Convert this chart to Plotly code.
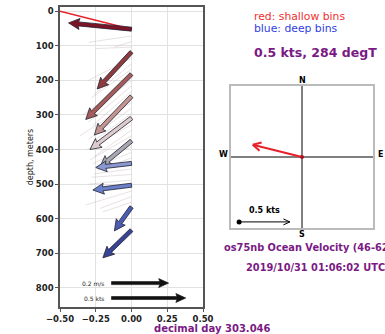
import math
import plotly.graph_objects as go

W, H = 385, 334

# ---- profile panel data (east component in plot units, depths in metres) ----
bin_depth = [52, 118, 182, 246, 309, 375, 440, 503, 566, 633]
tip_east = [-0.44, -0.24, -0.32, -0.26, -0.29, -0.22, -0.25, -0.27, -0.12, -0.20]
tip_depth = [34, 225, 313, 358, 400, 450, 452, 517, 635, 713]
arrow_colors = ['#7d1426', '#8e3b3b', '#a65a5a', '#c49590', '#dccccc',
                '#a8a8b0', '#8a98d0', '#6a80c8', '#4c5cb0', '#3a4494']

# individual-ensemble traces drawn faintly behind the bin arrows
faint_depth = [72, 88, 104, 136, 152, 168, 200, 216, 232, 264, 280, 296,
               328, 344, 360, 392, 408, 424, 456, 472, 488, 520, 536, 552]
faint_east = [-0.30, -0.12, -0.25, -0.30, -0.26, -0.28, -0.34, -0.30, -0.27,
              -0.36, -0.30, -0.28, -0.31, -0.26, -0.29, -0.27, -0.25, -0.24,
              -0.26, -0.28, -0.30, -0.32, -0.22, -0.20]
faint_tip = [90, 104, 108, 200, 240, 250, 300, 320, 330, 360, 370, 380,
             400, 420, 430, 440, 450, 460, 470, 480, 500, 560, 570, 580]

# average-vector line at the top of the profile
avg_line_east = [0.0, -0.5]
avg_line_depth = [52, 0]

# reference scale arrows
scale_labels = ['0.2 m/s', '0.5 kts']
scale_start = [-0.14, -0.14]
scale_end = [0.26, 0.38]
scale_depth = [786, 829]

x_ticks = [-0.50, -0.25, 0.00, 0.25, 0.50]
y_ticks = [0, 100, 200, 300, 400, 500, 600, 700, 800]

# ---- compass panel data ----
speed_kts = 0.5
heading_degT = 284
compass_scale_kts = 0.5

# ---- layout geometry (pixels) ----
ax1 = dict(left=60, right=203, top=7, bottom=307)
xr1 = [-0.5, 0.5]
yr1 = [855, -12]
ax2 = dict(left=231, right=373, top=86, bottom=228)
r2 = 0.7

sx = (ax1['right'] - ax1['left']) / (xr1[1] - xr1[0])
sy = (ax1['bottom'] - ax1['top']) / (yr1[0] - yr1[1])

def px(x):
    return x / W

def py(y):
    return 1 - y / H

def arrow_poly(x0, d0, x1, d1, w=4.0, hw=11.0, hl=11.0):
    X0, Y0, X1, Y1 = x0 * sx, d0 * sy, x1 * sx, d1 * sy
    dx, dy = X1 - X0, Y1 - Y0
    L = math.hypot(dx, dy)
    ux, uy = dx / L, dy / L
    nx, ny = -uy, ux
    hl = min(hl, L * 0.8)
    bx, by = X1 - ux * hl, Y1 - uy * hl
    sx_, sy_ = X1 - ux * hl * 0.9, Y1 - uy * hl * 0.9
    pts = [
        (X0 + nx * w / 2, Y0 + ny * w / 2),
        (sx_ + nx * w / 2, sy_ + ny * w / 2),
        (bx + nx * hw / 2, by + ny * hw / 2),
        (X1, Y1),
        (bx - nx * hw / 2, by - ny * hw / 2),
        (sx_ - nx * w / 2, sy_ - ny * w / 2),
        (X0 - nx * w / 2, Y0 - ny * w / 2),
        (X0 + nx * w / 2, Y0 + ny * w / 2),
    ]
    return [p[0] / sx for p in pts], [p[1] / sy for p in pts]

fig = go.Figure()

# faint ensemble lines
for d0, e, d1 in zip(faint_depth, faint_east, faint_tip):
    fig.add_trace(go.Scatter(x=[0, e], y=[d0, d1], mode='lines',
                             line=dict(color='rgba(190,170,170,0.5)', width=0.7),
                             hoverinfo='skip', showlegend=False))

# average line
fig.add_trace(go.Scatter(x=avg_line_east, y=avg_line_depth, mode='lines',
                         line=dict(color='#e8202a', width=1.5),
                         hoverinfo='skip', showlegend=False, cliponaxis=True))

# bin arrows
for d0, e, d1, c in zip(bin_depth, tip_east, tip_depth, arrow_colors):
    xs, ys = arrow_poly(0.0, d0, e, d1)
    fig.add_trace(go.Scatter(x=xs, y=ys, mode='lines', fill='toself',
                             fillcolor=c, line=dict(color='#222233', width=0.8),
                             hoverinfo='skip', showlegend=False))

# scale arrows
for lab, x0, x1, d in zip(scale_labels, scale_start, scale_end, scale_depth):
    xs, ys = arrow_poly(x0, d, x1, d, w=3.0, hw=9.0, hl=10.0)
    fig.add_trace(go.Scatter(x=xs, y=ys, mode='lines', fill='toself',
                             fillcolor='#111111', line=dict(color='#111111', width=0.6),
                             hoverinfo='skip', showlegend=False))
    fig.add_annotation(x=x0 - 0.04, y=d, xref='x', yref='y', text=lab,
                       showarrow=False, xanchor='right', yanchor='middle',
                       font=dict(family='DejaVu Sans', size=6, color='#222'))

# ---- compass ----
u = speed_kts * math.sin(math.radians(heading_degT))
v = speed_kts * math.cos(math.radians(heading_degT))
fig.add_trace(go.Scatter(x=[-r2, r2], y=[0, 0], xaxis='x2', yaxis='y2', mode='lines',
                         line=dict(color='black', width=1), hoverinfo='skip', showlegend=False))
fig.add_trace(go.Scatter(x=[0, 0], y=[-r2, r2], xaxis='x2', yaxis='y2', mode='lines',
                         line=dict(color='black', width=1), hoverinfo='skip', showlegend=False))

def open_arrow(x0, y0, x1, y1, head=0.09, ang=28):
    a = math.atan2(y1 - y0, x1 - x0)
    xs = [x0, x1, None]
    ys = [y0, y1, None]
    for s in (1, -1):
        b = a + math.pi + s * math.radians(ang)
        xs += [x1, x1 + head * math.cos(b), None]
        ys += [y1, y1 + head * math.sin(b), None]
    return xs, ys

xs, ys = open_arrow(0, 0, u, v)
fig.add_trace(go.Scatter(x=xs, y=ys, xaxis='x2', yaxis='y2', mode='lines',
                         line=dict(color='#e8202a', width=2), hoverinfo='skip', showlegend=False))
fig.add_trace(go.Scatter(x=[0], y=[0], xaxis='x2', yaxis='y2', mode='markers',
                         marker=dict(color='#b01020', size=4), hoverinfo='skip', showlegend=False))

sc_x0, sc_y0 = -0.62, -0.64
xs, ys = open_arrow(sc_x0, sc_y0, sc_x0 + compass_scale_kts, sc_y0, head=0.07, ang=25)
fig.add_trace(go.Scatter(x=xs, y=ys, xaxis='x2', yaxis='y2', mode='lines',
                         line=dict(color='black', width=1), hoverinfo='skip', showlegend=False))
fig.add_trace(go.Scatter(x=[sc_x0], y=[sc_y0], xaxis='x2', yaxis='y2', mode='markers',
                         marker=dict(color='black', size=5), hoverinfo='skip', showlegend=False))
fig.add_annotation(x=sc_x0 + compass_scale_kts / 2, y=sc_y0 + 0.05, xref='x2', yref='y2',
                   text='<b>0.5 kts</b>', showarrow=False, yanchor='bottom',
                   font=dict(family='DejaVu Sans', size=8, color='black'))

cx = (ax2['left'] + ax2['right']) / 2
cy = (ax2['top'] + ax2['bottom']) / 2
for t, x, y in [('N', cx, ax2['top'] - 6), ('S', cx, ax2['bottom'] + 6),
                ('W', ax2['left'] - 8, cy - 3), ('E', ax2['right'] + 7, cy - 3)]:
    fig.add_annotation(x=px(x), y=py(y), xref='paper', yref='paper', text=f'<b>{t}</b>',
                       showarrow=False, xanchor='center', yanchor='middle',
                       font=dict(family='DejaVu Sans', size=8, color='black'))

# ---- text blocks ----
purple = '#7a1a84'
texts = [
    ('red: shallow bins', 252, 16, 10.8, '#f03030', False, 'left'),
    ('blue: deep bins', 252, 28, 10.8, '#3040e0', False, 'left'),
    ('0.5 kts, 284 degT', 252, 52, 12.5, purple, True, 'left'),
    ('os75nb Ocean Velocity (46-62m)', 222, 247, 9.8, purple, True, 'left'),
    ('2019/10/31 01:06:02 UTC', 244, 267, 9.8, purple, True, 'left'),
    ('decimal day 303.046', 152, 328, 10, purple, True, 'left'),
]
for t, x, y, s, c, b, anc in texts:
    fig.add_annotation(x=px(x), y=py(y), xref='paper', yref='paper',
                       text=f'<b>{t}</b>' if b else t, showarrow=False,
                       xanchor=anc, yanchor='middle',
                       font=dict(family='DejaVu Sans', size=s, color=c))

fig.update_layout(
    width=W, height=H, margin=dict(l=0, r=0, t=0, b=0),
    paper_bgcolor='white', plot_bgcolor='white',
    xaxis=dict(domain=[px(ax1['left']), px(ax1['right'])], range=xr1, automargin=False,
               tickvals=x_ticks, tickformat='.2f', showgrid=True, gridcolor='#e2e2e2',
               zeroline=False, showline=True, linecolor='#555', linewidth=1.5, mirror=True,
               ticks='outside', ticklen=3, tickcolor='#555',
               tickfont=dict(family='DejaVu Sans', size=8.5, color='#222', weight='bold')),
    yaxis=dict(domain=[py(ax1['bottom']), py(ax1['top'])], range=yr1, automargin=False,
               tickvals=y_ticks, showgrid=True, gridcolor='#e2e2e2',
               zeroline=False, showline=True, linecolor='#555', linewidth=1.5, mirror=True,
               ticks='outside', ticklen=3, tickcolor='#555',
               tickfont=dict(family='DejaVu Sans', size=8.5, color='#222', weight='bold'),
               title=dict(text='depth, meters', standoff=1,
                          font=dict(family='DejaVu Sans', size=8, color='#222'))),
    xaxis2=dict(domain=[px(ax2['left']), px(ax2['right'])], range=[-r2, r2],
                anchor='y2', showgrid=False, zeroline=False, showticklabels=False,
                automargin=False,
                showline=True, linecolor='#bbbbbb', linewidth=1.5, mirror=True),
    yaxis2=dict(domain=[py(ax2['bottom']), py(ax2['top'])], range=[-r2, r2],
                anchor='x2', showgrid=False, zeroline=False, showticklabels=False,
                automargin=False,
                showline=True, linecolor='#bbbbbb', linewidth=1.5, mirror=True),
)

fig.write_html('out.html')
